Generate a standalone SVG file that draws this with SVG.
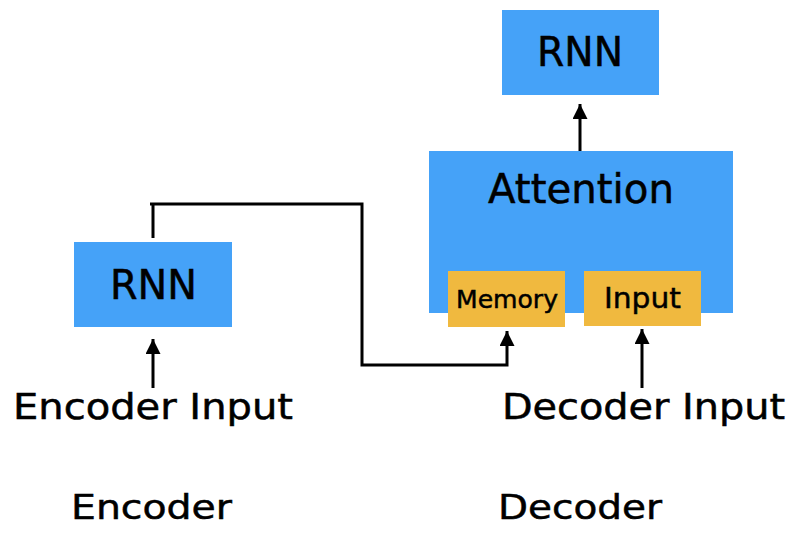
<svg xmlns="http://www.w3.org/2000/svg" width="810" height="538" viewBox="0 0 810 538">
<defs>
<style>
.blue{fill:#45A2F8}
.yellow{fill:#F0B93F}
text{font-family:"DejaVu Sans","Liberation Sans",sans-serif;fill:#000;stroke:#000;stroke-width:0.5;text-anchor:middle}
.conn{fill:none;stroke:#000;stroke-width:3}
</style>
<marker id="arrow" markerUnits="userSpaceOnUse" markerWidth="15" markerHeight="15" refX="14" refY="7" orient="auto" viewBox="0 0 14 14">
<path d="M0,0 L14,7 L0,14 z" fill="#000"/>
</marker>
</defs>
<rect width="810" height="538" fill="#fff"/>
<g id="encoder-rnn">
<rect class="blue" x="74" y="242" width="158" height="85"/>
<text x="153.5" y="299" font-size="40" textLength="87" lengthAdjust="spacingAndGlyphs">RNN</text>
</g>
<g id="attention">
<rect class="blue" x="429" y="151" width="304" height="162"/>
<text x="581" y="203" font-size="41" textLength="186" lengthAdjust="spacingAndGlyphs">Attention</text>
</g>
<g id="memory">
<rect class="yellow" x="448" y="271" width="117" height="56"/>
<text x="507" y="308" font-size="25" textLength="102" lengthAdjust="spacingAndGlyphs">Memory</text>
</g>
<g id="input">
<rect class="yellow" x="584" y="271" width="117" height="55"/>
<text x="642.5" y="308" font-size="29" textLength="77" lengthAdjust="spacingAndGlyphs">Input</text>
</g>
<g id="decoder-rnn">
<rect class="blue" x="502" y="10" width="157" height="85"/>
<text x="580" y="66" font-size="40" textLength="86" lengthAdjust="spacingAndGlyphs">RNN</text>
</g>
<g id="labels">
<text x="153" y="419" font-size="35" textLength="280" lengthAdjust="spacingAndGlyphs">Encoder Input</text>
<text x="643.5" y="419" font-size="35" textLength="283" lengthAdjust="spacingAndGlyphs">Decoder Input</text>
<text x="151.5" y="519" font-size="34" textLength="161" lengthAdjust="spacingAndGlyphs">Encoder</text>
<text x="580" y="519" font-size="34" textLength="164" lengthAdjust="spacingAndGlyphs">Decoder</text>
</g>
<g id="connectors">
<path class="conn" d="M153 388 V339" marker-end="url(#arrow)"/>
<path class="conn" d="M153 238 V204 M150 204 H362 V365 H507 V331" marker-end="url(#arrow)"/>
<path class="conn" d="M642 388 V329" marker-end="url(#arrow)"/>
<path class="conn" d="M580 151 V104" marker-end="url(#arrow)"/>
</g>
</svg>
